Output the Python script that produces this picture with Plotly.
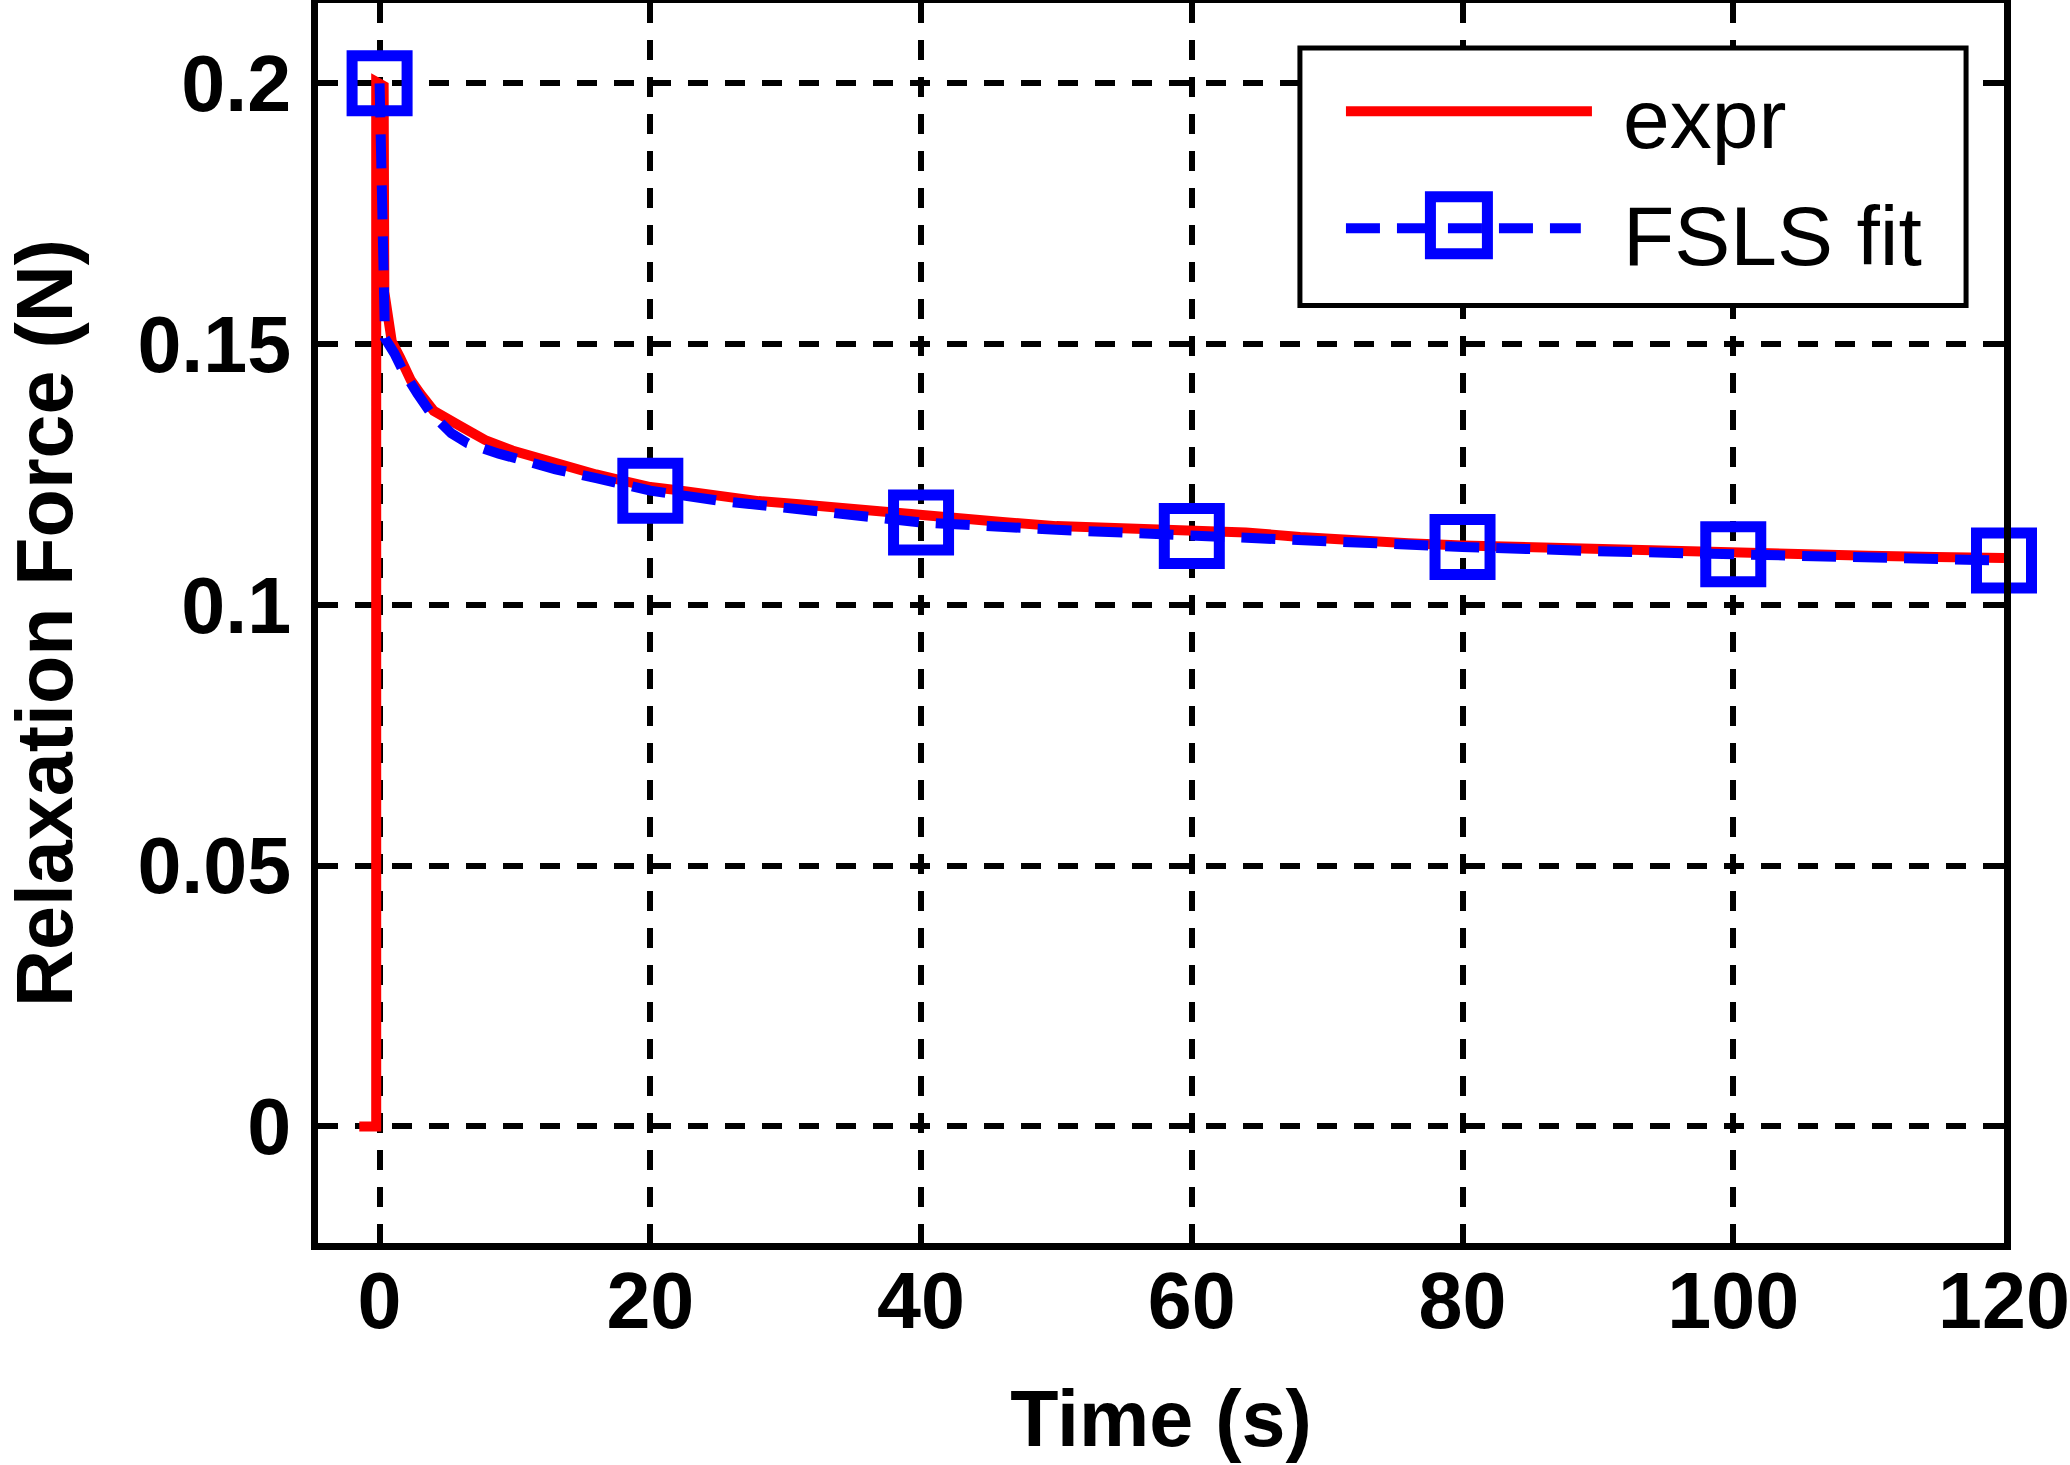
import plotly.graph_objects as go

expr_time = [-1.5, -0.25, -0.25, 0.3, 0.35, 0.6, 0.9, 1.5, 2.3, 3.0, 4.0, 5.8, 7.8, 9.8,
             12, 14, 16, 18, 20, 22, 25, 28, 31, 35, 38, 42, 46, 50, 55, 60, 64, 68,
             72, 76, 80, 85, 90, 95, 100, 105, 110, 115, 120]
expr_force = [0.0, 0.0, 0.2003, 0.1995, 0.1600, 0.1535, 0.1505, 0.1475, 0.1431, 0.1405,
              0.1372, 0.1345, 0.1316, 0.1296, 0.1278, 0.1263, 0.1250, 0.1238, 0.1226,
              0.1220, 0.1208, 0.1199, 0.1193, 0.1183, 0.1176, 0.1167, 0.1159, 0.1151,
              0.1147, 0.1144, 0.1139, 0.1130, 0.1122, 0.1118, 0.1114, 0.1110, 0.1107,
              0.1104, 0.1099, 0.1096, 0.1094, 0.1092, 0.1090]

# FSLS model fit
fit_time = [0, 0.4, 1.1, 1.7, 2.8, 3.8, 5.3, 6.5, 8.8, 10.3, 13, 16, 20, 25, 30, 35,
            40, 50, 60, 70, 80, 90, 100, 110, 120]
fit_force = [0.2000, 0.1511, 0.1482, 0.1450, 0.1405, 0.1367, 0.1329, 0.1310, 0.1290,
             0.1278, 0.1260, 0.1243, 0.1219, 0.1200, 0.1185, 0.1171, 0.1158, 0.1144,
             0.1132, 0.1120, 0.1111, 0.1103, 0.1097, 0.1091, 0.1085]

marker_time = [0, 20, 40, 60, 80, 100, 120]
marker_force = [0.2000, 0.1219, 0.1158, 0.1132, 0.1111, 0.1097, 0.1085]

x_ticks = [0, 20, 40, 60, 80, 100, 120]
x_ticklabels = ['0', '20', '40', '60', '80', '100', '120']
y_ticks = [0, 0.05, 0.1, 0.15, 0.2]
y_ticklabels = ['0', '0.05', '0.1', '0.15', '0.2']

legend_names = ['expr', 'FSLS fit']

FONT = 'Arial, Liberation Sans, sans-serif'
RED = '#FF0000'
BLUE = '#0000FF'

fig = go.Figure()

fig.add_trace(go.Scatter(
    x=expr_time, y=expr_force, mode='lines', name=legend_names[0],
    line=dict(color=RED, width=10), showlegend=False,
))
fig.add_trace(go.Scatter(
    x=fit_time, y=fit_force, mode='lines', name=legend_names[1],
    line=dict(color=BLUE, width=10, dash='34px,17px'), showlegend=False,
))
fig.add_trace(go.Scatter(
    x=marker_time, y=marker_force, mode='markers', name=legend_names[1],
    marker=dict(symbol='square-open', size=55, color=BLUE,
                line=dict(width=11, color=BLUE)),
    showlegend=False, cliponaxis=False,
))

axis_common = dict(
    showline=True, linecolor='black', linewidth=7, mirror='ticks',
    ticks='inside', ticklen=18, tickwidth=6, tickcolor='black',
    showgrid=True, gridcolor='black', gridwidth=6, griddash='20px,17px',
    zeroline=False, ticklabeloverflow='allow',
    tickfont=dict(family=FONT, size=79, color='black', weight='bold'),
    title_font=dict(family=FONT, size=79, color='black', weight='bold'),
)

fig.update_xaxes(
    range=[-4.55, 120], tickvals=x_ticks, ticktext=x_ticklabels,
    title_text='Time (s)', title_standoff=49, ticklabelstandoff=-17,
    **axis_common,
)
fig.update_yaxes(
    range=[-0.02235, 0.2154], tickvals=y_ticks, ticktext=y_ticklabels,
    title_text='Relaxation Force (N)', title_standoff=46, ticklabelstandoff=4,
    **axis_common,
)

# legend box drawn in the MATLAB style (long sample lines, large marker)
shapes = [
    dict(type='rect', xref='paper', yref='paper', x0=0.5824, x1=0.9775, y0=0.7561, y1=0.9637,
         fillcolor='white', line=dict(color='black', width=5), layer='above'),
    dict(type='line', xref='paper', yref='paper', x0=0.6097, x1=0.7556, y0=0.9128, y1=0.9128,
         line=dict(color=RED, width=10), layer='above'),
    dict(type='line', xref='paper', yref='paper', x0=0.6097, x1=0.7490, y0=0.8183, y1=0.8183,
         line=dict(color=BLUE, width=10, dash='34px,17px'), layer='above'),
    dict(type='rect', xref='paper', yref='paper', x0=0.6598, x1=0.6936, y0=0.7977, y1=0.8437,
         line=dict(color=BLUE, width=11), layer='above'),
]
annotations = [
    dict(text=legend_names[0], xref='paper', yref='paper', x=0.7728, y=0.9063,
         xanchor='left', yanchor='middle', showarrow=False,
         font=dict(family=FONT, size=84, color='black')),
    dict(text=legend_names[1], xref='paper', yref='paper', x=0.7728, y=0.8118,
         xanchor='left', yanchor='middle', showarrow=False,
         font=dict(family=FONT, size=84, color='black')),
]

fig.update_layout(
    width=2070, height=1465,
    margin=dict(l=318, r=66, t=3, b=222, autoexpand=False),
    plot_bgcolor='white', paper_bgcolor='white',
    shapes=shapes, annotations=annotations,
    showlegend=False,
)

# drop the browser's default 8px body margin so the figure sits at the page corner
fig.write_html('out.html', config={'displayModeBar': False},
               post_script="document.body.style.margin='0';")
